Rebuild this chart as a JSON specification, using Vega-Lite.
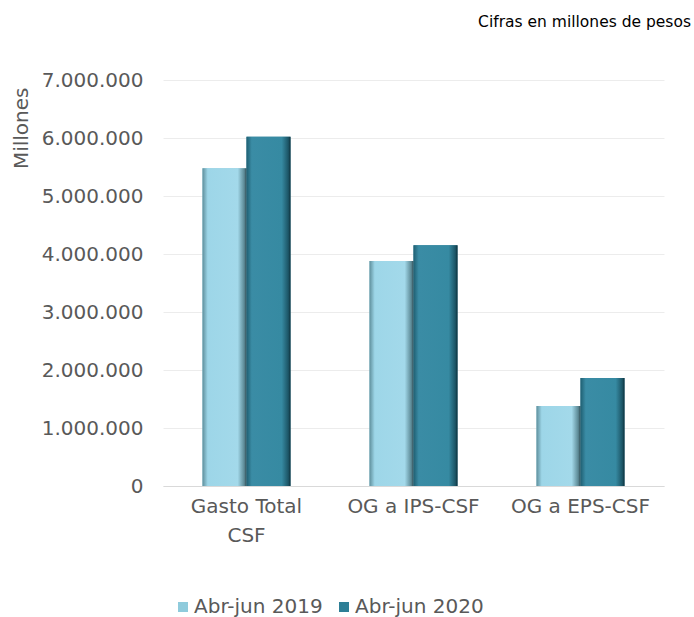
{
  "$schema": "https://vega.github.io/schema/vega-lite/v6.json",
  "width": 501,
  "height": 406,
  "autosize": {"type": "none"},
  "padding": {"left": 163, "top": 80, "right": 30, "bottom": 131},
  "background": "white",
  "title": {
    "text": "Cifras en millones de pesos",
    "anchor": "end",
    "frame": "group",
    "fontSize": 15.5,
    "font": "DejaVu Sans",
    "fontWeight": "normal",
    "color": "#000000",
    "offset": 40,
    "dx": 27
  },
  "data": {
    "values": [
      {"categoria": "Gasto Total CSF", "serie": "Abr-jun 2019", "valor": 5480000},
      {"categoria": "Gasto Total CSF", "serie": "Abr-jun 2020", "valor": 6020000},
      {"categoria": "OG a IPS-CSF", "serie": "Abr-jun 2019", "valor": 3880000},
      {"categoria": "OG a IPS-CSF", "serie": "Abr-jun 2020", "valor": 4150000},
      {"categoria": "OG a EPS-CSF", "serie": "Abr-jun 2019", "valor": 1380000},
      {"categoria": "OG a EPS-CSF", "serie": "Abr-jun 2020", "valor": 1860000}
    ]
  },
  "encoding": {
    "x": {
      "field": "categoria",
      "type": "nominal",
      "sort": ["Gasto Total CSF", "OG a IPS-CSF", "OG a EPS-CSF"],
      "scale": {"paddingInner": 0.473, "paddingOuter": 0.2365},
      "axis": {
        "title": null,
        "labelAngle": 0,
        "labelFontSize": 20,
        "labelFont": "DejaVu Sans",
        "labelColor": "#595959",
        "labelPadding": 10,
        "labelExpr": "datum.value == 'Gasto Total CSF' ? ['Gasto Total', 'CSF'] : datum.value",
        "labelLineHeight": 29,
        "domain": true,
        "domainColor": "#d9d9d9",
        "ticks": false,
        "grid": false
      }
    },
    "xOffset": {"field": "serie", "type": "nominal", "sort": ["Abr-jun 2019", "Abr-jun 2020"], "scale": {"paddingInner": 0, "paddingOuter": 0}},
    "y": {
      "field": "valor",
      "type": "quantitative",
      "scale": {"domain": [0, 7000000], "nice": false},
      "axis": {
        "title": "Millones",
        "titleFontSize": 20,
        "titleFont": "DejaVu Sans",
        "titleFontWeight": "normal",
        "titleColor": "#595959",
        "titleAnchor": "end",
        "titleY": 7,
        "titlePadding": 10,
        "values": [0, 1000000, 2000000, 3000000, 4000000, 5000000, 6000000, 7000000],
        "labelExpr": "replace(format(datum.value, ',d'), /,/g, '.')",
        "labelFontSize": 20,
        "labelFont": "DejaVu Sans",
        "labelColor": "#595959",
        "labelPadding": 20,
        "domain": false,
        "ticks": false,
        "grid": true,
        "gridColor": "#ececec",
        "gridWidth": 1
      }
    }
  },
  "layer": [
    {
      "mark": {"type": "bar", "strokeWidth": 0},
      "encoding": {
        "color": {
          "field": "serie",
          "type": "nominal",
          "scale": {"domain": ["Abr-jun 2019", "Abr-jun 2020"], "range": ["#8fcbdc", "#2e7f96"]},
          "legend": {
            "title": null,
            "orient": "none",
            "direction": "horizontal",
            "legendX": 10,
            "legendY": 517,
            "symbolType": "square",
            "symbolSize": 100,
            "symbolStrokeWidth": 0,
            "labelFontSize": 20,
            "labelFont": "DejaVu Sans",
            "labelColor": "#595959",
            "labelOffset": 1,
            "columnPadding": 11
          }
        }
      }
    },
    {
      "mark": {"type": "bar", "strokeWidth": 0},
      "encoding": {
        "fill": {
          "condition": {
            "test": "datum.serie === 'Abr-jun 2019'",
            "value": {
              "gradient": "linear", "x1": 0, "y1": 0, "x2": 1, "y2": 0,
              "stops": [
                {"offset": 0, "color": "#5f8f9c"},
                {"offset": 0.12, "color": "#9dd6e8"},
                {"offset": 0.8, "color": "#a3d9ea"},
                {"offset": 0.95, "color": "#5b8894"},
                {"offset": 1, "color": "#2f4a52"}
              ]
            }
          },
          "value": {
            "gradient": "linear", "x1": 0, "y1": 0, "x2": 1, "y2": 0,
            "stops": [
              {"offset": 0, "color": "#1f5f72"},
              {"offset": 0.12, "color": "#3a8ca5"},
              {"offset": 0.8, "color": "#368aa2"},
              {"offset": 0.95, "color": "#1c5566"},
              {"offset": 1, "color": "#0d2f3a"}
            ]
          }
        }
      }
    }
  ],
  "config": {"view": {"stroke": null}}
}
